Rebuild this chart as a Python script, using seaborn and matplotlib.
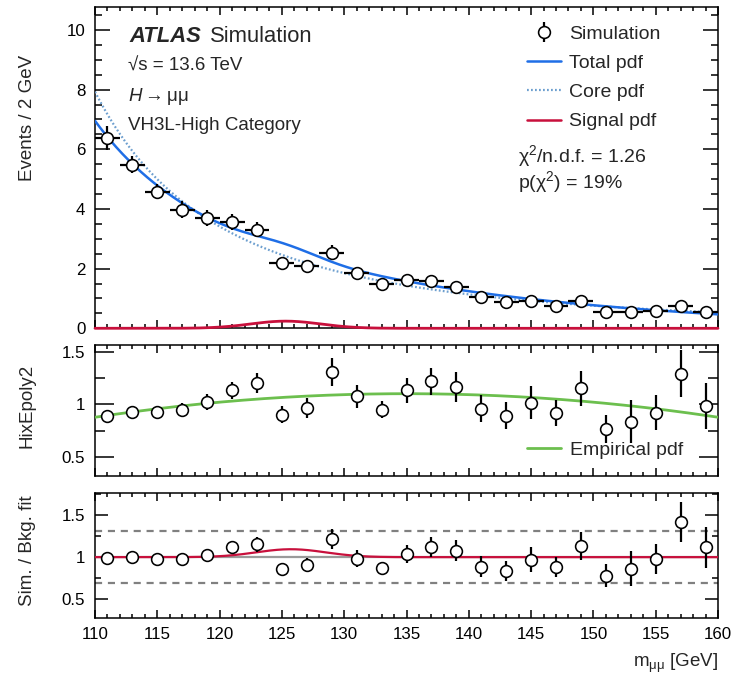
import numpy as np
import pandas as pd
import matplotlib
matplotlib.use("Agg")
import matplotlib.pyplot as plt
from matplotlib.ticker import MultipleLocator, FuncFormatter
import seaborn as sns

# ---------------- data (2 GeV bins) ----------------
mass = [111, 113, 115, 117, 119, 121, 123, 125, 127, 129, 131, 133, 135,
        137, 139, 141, 143, 145, 147, 149, 151, 153, 155, 157, 159]
events = [6.39, 5.49, 4.58, 3.98, 3.70, 3.57, 3.31, 2.18, 2.09, 2.54, 1.86, 1.48, 1.62,
          1.59, 1.37, 1.04, 0.87, 0.93, 0.76, 0.91, 0.54, 0.54, 0.57, 0.75, 0.54]
events_err = [0.40, 0.30, 0.26, 0.28, 0.27, 0.27, 0.26, 0.18, 0.19, 0.26, 0.19, 0.15, 0.17,
              0.17, 0.17, 0.15, 0.12, 0.15, 0.11, 0.14, 0.09, 0.12, 0.11, 0.13, 0.12]
ratio_core = [0.885, 0.927, 0.927, 0.949, 1.022, 1.134, 1.204, 0.901, 0.968, 1.309, 1.076, 0.949, 1.134,
              1.220, 1.165, 0.959, 0.892, 1.016, 0.920, 1.156, 0.768, 0.834, 0.920, 1.293, 0.984]
ratio_core_err = [0.040, 0.045, 0.050, 0.064, 0.073, 0.083, 0.099, 0.080, 0.096, 0.135, 0.110, 0.083, 0.120,
                  0.127, 0.140, 0.132, 0.127, 0.158, 0.126, 0.167, 0.135, 0.204, 0.167, 0.223, 0.221]
ratio_bkg = [0.995, 1.007, 0.976, 0.976, 1.027, 1.115, 1.155, 0.857, 0.908, 1.218, 0.980, 0.869, 1.039,
             1.119, 1.075, 0.888, 0.837, 0.968, 0.888, 1.135, 0.781, 0.861, 0.980, 1.417, 1.115]
ratio_bkg_err = [0.045, 0.045, 0.050, 0.060, 0.065, 0.080, 0.089, 0.070, 0.080, 0.119, 0.099, 0.075, 0.105,
                 0.117, 0.125, 0.127, 0.115, 0.149, 0.119, 0.163, 0.133, 0.208, 0.179, 0.240, 0.242]
bin_half_width = 1.0

# ---------------- fitted model parameters ----------------
core_at_110 = 7.93      # core pdf value at 110 GeV (events / 2 GeV)
core_power = 0.89       # Breit-Wigner tail exponent
m_Z, gamma_Z = 91.19, 2.495
emp_peak, emp_peak_mass, emp_curv = 1.102, 135.0, 0.00036
sig_height, sig_mean, sig_sigma = 0.24, 125.3, 2.8
side_band = [0.69, 1.315]
chi2_ndf, p_chi2 = "1.26", "19%"


def core_pdf(m):
    bw = lambda x: ((x ** 2 - m_Z ** 2) ** 2 + (m_Z * gamma_Z) ** 2) ** (-core_power)
    return core_at_110 * bw(m) / bw(110.0)


def empirical_pdf(m):
    return emp_peak - emp_curv * (m - emp_peak_mass) ** 2


def signal_pdf(m):
    return sig_height * np.exp(-0.5 * ((m - sig_mean) / sig_sigma) ** 2)


m_grid = np.linspace(110, 160, 501)
curves = pd.DataFrame({"m": m_grid})
curves["core"] = core_pdf(m_grid)
curves["emp"] = empirical_pdf(m_grid)
curves["bkg"] = curves["core"] * curves["emp"]
curves["sig"] = signal_pdf(m_grid)
curves["total"] = curves["bkg"] + curves["sig"]
curves["sb_ratio"] = curves["total"] / curves["bkg"]

points = pd.DataFrame({"m": mass, "events": events, "rc": ratio_core, "rb": ratio_bkg})

# ---------------- style ----------------
sns.set_theme(style="ticks")
plt.rcParams.update({
    "font.family": ["Liberation Sans", "DejaVu Sans"],
    "mathtext.fontset": "custom",
    "mathtext.rm": "Liberation Sans",
    "mathtext.it": "Liberation Sans:italic",
    "mathtext.bf": "Liberation Sans:bold",
    "axes.linewidth": 1.1,
    "axes.edgecolor": "black",
})

C_TOTAL = "#1f6ee6"
C_CORE = "#6d9fcf"
C_SIG = "#c8103c"
C_EMP = "#6cbf4e"
C_GREY = "#808080"

W, H = 744, 675
fig = plt.figure(figsize=(W / 100, H / 100), dpi=100)


def axes_px(left, top, right, bottom):
    return fig.add_axes([left / W, 1 - bottom / H, (right - left) / W, (bottom - top) / H])


def fpos(x, y):
    return x / W, 1 - y / H


ax_top = axes_px(95, 7.3, 718, 328.3)
ax_mid = axes_px(95, 345, 718, 476)
ax_bot = axes_px(95, 493.3, 718, 618.3)

TICK_FS = 12.2
for ax, ymaj, ymin, ylen in [(ax_top, 2, 0.5, (10.8, 5.0)),
                             (ax_mid, 0.5, 0.25, (13.7, 7.0)),
                             (ax_bot, 0.5, 0.25, (9.4, 4.3))]:
    ax.set_xlim(110, 160)
    ax.xaxis.set_major_locator(MultipleLocator(5))
    ax.xaxis.set_minor_locator(MultipleLocator(1))
    ax.yaxis.set_major_locator(MultipleLocator(ymaj))
    ax.yaxis.set_minor_locator(MultipleLocator(ymin))
    ax.tick_params(which="both", direction="in", top=True, right=True,
                   width=1.1, color="black", labelsize=TICK_FS, labelcolor="black")
    ax.tick_params(axis="x", which="major", length=5.8, pad=6)
    ax.tick_params(axis="x", which="minor", length=2.9)
    ax.tick_params(axis="y", which="major", length=ylen[0], pad=7)
    ax.tick_params(axis="y", which="minor", length=ylen[1])

ax_top.tick_params(axis="x", labelbottom=False)
ax_mid.tick_params(axis="x", labelbottom=False)

ax_top.set_ylim(0, 10.76)
ax_mid.set_ylim(0.316, 1.567)
ax_bot.set_ylim(0.274, 1.758)

num_fmt = FuncFormatter(lambda v, _: f"{v:g}")
for ax in (ax_top, ax_mid, ax_bot):
    ax.yaxis.set_major_formatter(num_fmt)
ax_bot.xaxis.set_major_formatter(num_fmt)

MK = dict(marker="o", s=72, facecolor="white", edgecolor="black", linewidth=1.15, zorder=6)
EB = dict(fmt="none", ecolor="black", elinewidth=1.6, capsize=0, zorder=5)

# ---------------- top panel ----------------
sns.lineplot(data=curves, x="m", y="core", ax=ax_top, color=C_CORE, lw=1.6,
             linestyle=(0, (0.8, 1.0)), zorder=3)
sns.lineplot(data=curves, x="m", y="total", ax=ax_top, color=C_TOTAL, lw=1.8, zorder=4)
sns.lineplot(data=curves, x="m", y="sig", ax=ax_top, color=C_SIG, lw=2.0, zorder=7, clip_on=False)
ax_top.errorbar(mass, events, xerr=bin_half_width, yerr=events_err, **EB)
sns.scatterplot(data=points, x="m", y="events", ax=ax_top, **MK)
ax_top.set_xlabel("")
ax_top.set_ylabel("")

# legend
h_sim = ax_top.errorbar([np.nan], [np.nan], yerr=[1.0], fmt="o", mfc="white", mec="black",
                        mew=1.15, ms=8.5, ecolor="black", elinewidth=1.6, capsize=0)
h_tot = plt.Line2D([], [], color=C_TOTAL, lw=1.8)
h_core = plt.Line2D([], [], color=C_CORE, lw=1.6, linestyle=(0, (0.8, 1.0)))
h_sig = plt.Line2D([], [], color=C_SIG, lw=1.8)
ax_top.legend([h_sim, h_tot, h_core, h_sig],
              ["Simulation", "Total pdf", "Core pdf", "Signal pdf"],
              loc="upper left", bbox_to_anchor=fpos(526.7, 25), bbox_transform=fig.transFigure,
              frameon=False, fontsize=14, borderpad=0, borderaxespad=0,
              handlelength=1.77, handletextpad=0.42, labelspacing=0.6)

fig.text(*fpos(518.3, 155.7), r"$\mathrm{\chi}^{2}$/n.d.f. = " + chi2_ndf,
         fontsize=14, va="center", ha="left")
fig.text(*fpos(518.3, 181.7), r"p($\mathrm{\chi}^{2}$) = " + p_chi2,
         fontsize=14, va="center", ha="left")

fig.text(*fpos(129.3, 36), "ATLAS", fontsize=15.8, va="center", ha="left",
         fontweight="bold", fontstyle="italic")
fig.text(*fpos(210, 36), "Simulation", fontsize=15.8, va="center", ha="left")
fig.text(*fpos(128.5, 65.7), "√s = 13.6 TeV", fontsize=13.5, va="center", ha="left")
fig.text(*fpos(128.5, 96.7), r"$H \rightarrow \mathrm{\mu\mu}$", fontsize=13.5, va="center", ha="left")
fig.text(*fpos(128.5, 125), "VH3L-High Category", fontsize=13.5, va="center", ha="left")

# ---------------- middle panel ----------------
sns.lineplot(data=curves, x="m", y="emp", ax=ax_mid, color=C_EMP, lw=2.0, zorder=3)
ax_mid.errorbar(mass, ratio_core, yerr=ratio_core_err, **EB)
sns.scatterplot(data=points, x="m", y="rc", ax=ax_mid, **MK)
ax_mid.set_xlabel("")
ax_mid.set_ylabel("")
ax_mid.legend([plt.Line2D([], [], color=C_EMP, lw=2.0)], ["Empirical pdf"],
              loc="center left", bbox_to_anchor=fpos(526.7, 450), bbox_transform=fig.transFigure,
              frameon=False, fontsize=14, borderpad=0, borderaxespad=0,
              handlelength=1.77, handletextpad=0.45)

# ---------------- bottom panel ----------------
for lvl in side_band:
    ax_bot.axhline(lvl, color=C_GREY, lw=1.6, linestyle=(0, (3.2, 2.6)), zorder=2)
ax_bot.axhline(1.0, color="#9a9a9a", lw=1.6, zorder=2)
sns.lineplot(data=curves, x="m", y="sb_ratio", ax=ax_bot, color=C_SIG, lw=1.6, zorder=3)
ax_bot.errorbar(mass, ratio_bkg, yerr=ratio_bkg_err, **EB)
sns.scatterplot(data=points, x="m", y="rb", ax=ax_bot, **MK)
ax_bot.set_ylabel("")
ax_bot.set_xlabel(r"$\mathrm{m_{\mu\mu}}$ [GeV]", fontsize=13.5, loc="right")
ax_bot.xaxis.set_label_coords(1.0, -0.27)

# y-axis titles
fig.text(*fpos(27, 118), "Events / 2 GeV", rotation=90, fontsize=13.5, va="center", ha="center")
fig.text(*fpos(27, 406), "HixEpoly2", rotation=90, fontsize=13.5, va="center", ha="center")
fig.text(*fpos(27, 551), "Sim. / Bkg. fit", rotation=90, fontsize=13.5, va="center", ha="center")

fig.savefig("out.png", dpi=100)
